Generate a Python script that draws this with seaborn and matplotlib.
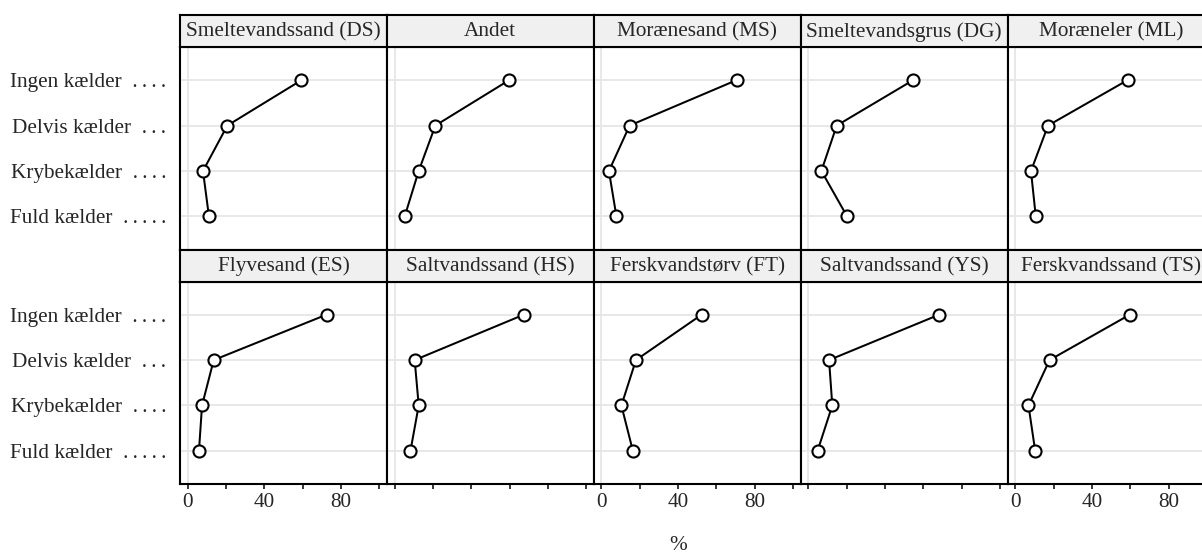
import numpy as np
import pandas as pd
import matplotlib
matplotlib.use("Agg")
import matplotlib.pyplot as plt
import seaborn as sns

# ---------------- data ----------------
kaelder = ["Ingen kælder", "Delvis kælder", "Krybekælder", "Fuld kælder"]
kaelder_labels = ["Ingen kælder  .\u2009.\u2009.\u2009.",
                  "Delvis kælder  .\u2009.\u2009.",
                  "Krybekælder  .\u2009.\u2009.\u2009.",
                  "Fuld kælder  .\u2009.\u2009.\u2009.\u2009."]
jordarter = ["Smeltevandssand (DS)", "Andet", "Morænesand (MS)",
             "Smeltevandsgrus (DG)", "Moræneler (ML)",
             "Flyvesand (ES)", "Saltvandssand (HS)", "Ferskvandstørv (FT)",
             "Saltvandssand (YS)", "Ferskvandssand (TS)"]
pct_ds = [59.4, 20.7, 8.0, 11.1]
pct_andet = [59.8, 21.3, 12.6, 5.3]
pct_ms = [70.5, 14.7, 3.9, 7.8]
pct_dg = [54.7, 14.8, 6.8, 20.2]
pct_ml = [58.6, 17.1, 8.2, 10.7]
pct_es = [72.5, 13.6, 7.5, 5.9]
pct_hs = [67.5, 10.5, 12.6, 8.3]
pct_ft = [52.3, 18.0, 10.4, 16.4]
pct_ys = [68.3, 10.8, 12.5, 4.8]
pct_ts = [59.8, 17.9, 6.9, 10.4]
x_ticks = [0, 20, 40, 60, 80, 100]
x_ticklabels = ["0", "", "40", "", "80", ""]
x_label = "%"

series = [pct_ds, pct_andet, pct_ms, pct_dg, pct_ml,
          pct_es, pct_hs, pct_ft, pct_ys, pct_ts]
df = pd.DataFrame({
    "jordart": np.repeat(jordarter, len(kaelder)),
    "kaelder": kaelder * len(jordarter),
    "pct": np.concatenate(series),
})

# ---------------- style ----------------
sns.set_theme(style="white")
plt.rcParams["font.family"] = ["Liberation Serif", "DejaVu Serif"]
FS = 15.3
W, H = 1202, 555

g = sns.FacetGrid(df, col="jordart", col_order=jordarter, col_wrap=5,
                  sharex=True, sharey=True, despine=False, height=2.5, aspect=1)
g.map_dataframe(sns.pointplot, x="pct", y="kaelder", order=kaelder,
                orient="h", color="black", errorbar=None,
                markers="o", linestyles="-",
                linewidth=1.45, markersize=8.7, markeredgewidth=1.5,
                markerfacecolor="white", markeredgecolor="black")
fig = g.figure
fig.set_size_inches(W / 100, H / 100)
fig.set_dpi(100)
fig.patch.set_facecolor("white")

left0 = 180.0
colw = 206.9
strip_tops = [15.0, 249.5]
strip_h = 32.0
panel_h = 202.5
grid_col = "#e6e6e6"

# shared x ticks (set once; all panels share the locator/formatter)
ax0 = g.axes.flat[0]
ax0.set_xlim(-4, 104)
ax0.set_xticks(x_ticks)
ax0.set_xticklabels(x_ticklabels, fontsize=FS)
ax0.set_yticks(range(len(kaelder)))
ax0.set_yticklabels(kaelder_labels, fontsize=FS)
ax0.set_ylim(3.73, -0.73)

for i, ax in enumerate(g.axes.flat):
    r, c = divmod(i, 5)
    x0 = left0 + c * colw
    ptop = strip_tops[r] + strip_h
    ax.set_position([x0 / W, 1 - (ptop + panel_h) / H, colw / W, panel_h / H])
    ax.set_title("")
    ax.set_xlabel("")
    ax.set_ylabel("")
    ax.set_facecolor("white")
    for s in ax.spines.values():
        s.set_visible(True)
        s.set_color("black")
        s.set_linewidth(1.5)
    ax.set_axisbelow(True)
    ax.grid(False)
    ax.yaxis.grid(True, color=grid_col, linewidth=1.3)
    ax.axvline(0, color=grid_col, linewidth=1.3, zorder=0)
    # y ticks
    ax.tick_params(axis="y", length=0, pad=10, labelsize=FS, labelleft=(c == 0))
    # x ticks
    if r == 1:
        ax.tick_params(axis="x", bottom=True, length=3.8, width=1.1,
                       direction="out", pad=3, color="black", labelsize=FS,
                       labelbottom=(c % 2 == 0))
    else:
        ax.tick_params(axis="x", bottom=False, length=0, labelbottom=False)

    # strip
    sax = fig.add_axes([x0 / W, 1 - (strip_tops[r] + strip_h) / H, colw / W, strip_h / H])
    sax.set_facecolor("#f0f0f0")
    sax.set_xticks([])
    sax.set_yticks([])
    for s in sax.spines.values():
        s.set_visible(True)
        s.set_color("black")
        s.set_linewidth(1.5)
    sax.text(0.5, 0.47, jordarter[i], ha="center", va="center",
             fontsize=FS, transform=sax.transAxes)

fig.text(677.7 / W, 1 - 545 / H, x_label, ha="center", va="center", fontsize=FS)

fig.savefig("out.png", dpi=100)
